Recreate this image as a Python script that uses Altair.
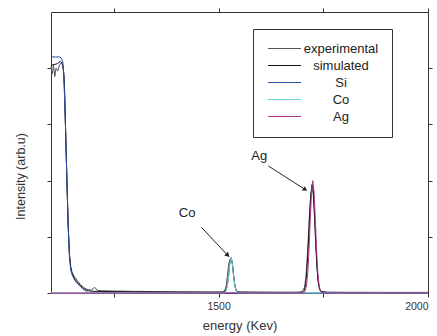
import altair as alt
import pandas as pd

# ---- data ----
si_e = [1100, 1110, 1120, 1125, 1128, 1130, 1132, 1135, 1138, 1141, 1144, 1147, 1150, 1155, 1160, 1165, 1170, 1175, 1180, 1185, 1190, 2000]
si_v = [4.2, 4.2, 4.2, 4.18, 4.12, 3.95, 3.6, 2.85, 2.0, 1.2, 0.65, 0.42, 0.33, 0.25, 0.19, 0.15, 0.12, 0.08, 0.05, 0.02, 0.0, 0.0]

co_e = [1100, 1510, 1515, 1518, 1521, 1524, 1527, 1530, 1533, 1536, 1539, 1542, 1545, 1550, 2000]
co_v = [0.0, 0.0, 0.007, 0.035, 0.125, 0.307, 0.526, 0.63, 0.526, 0.307, 0.125, 0.035, 0.007, 0.0, 0.0]

ag_e = [1100, 1703, 1707, 1710, 1713, 1716, 1719, 1722, 1725, 1728, 1731, 1734, 1737, 1740, 1743, 1747, 2000]
ag_v = [0.0, 0.0, 0.043, 0.14, 0.36, 0.77, 1.31, 1.8, 2.0, 1.8, 1.31, 0.77, 0.36, 0.14, 0.043, 0.0, 0.0]

exp_e = [1100, 1103, 1106, 1109, 1112, 1116, 1120, 1125, 1128, 1131, 1135, 1138, 1141, 1144, 1147, 1150, 1155, 1160,
         1165, 1170, 1175, 1180, 1185, 1190, 1195, 1200, 1203, 1206, 1210, 1220, 1250, 1300, 1350, 1400, 1450, 1480,
         1510, 1515, 1518, 1521, 1524, 1527, 1530, 1533, 1536, 1539, 1542, 1546, 1600, 1650, 1690, 1700, 1705, 1708,
         1711, 1714, 1717, 1720, 1723, 1726, 1729, 1732, 1735, 1738, 1741, 1745, 1760, 1800, 1850, 1900, 1950, 2000]
exp_v = [4.03, 3.9, 4.05, 3.85, 4.0, 3.95, 4.05, 4.1, 4.05, 3.85, 2.85, 2.0, 1.2, 0.7, 0.48, 0.38, 0.3, 0.25,
         0.2, 0.15, 0.12, 0.09, 0.07, 0.06, 0.05, 0.07, 0.1, 0.09, 0.05, 0.04, 0.035, 0.03, 0.025, 0.022, 0.02, 0.018,
         0.02, 0.05, 0.12, 0.3, 0.5, 0.6, 0.62, 0.52, 0.3, 0.13, 0.05, 0.02, 0.016, 0.014, 0.013, 0.03, 0.1, 0.25,
         0.55, 0.95, 1.4, 1.75, 1.88, 1.75, 1.35, 0.85, 0.45, 0.2, 0.08, 0.03, 0.015, 0.012, 0.011, 0.01, 0.01, 0.01]

sim_e = [1100, 1115, 1122, 1126, 1129, 1131, 1133, 1135, 1138, 1141, 1144, 1147, 1150, 1155, 1160, 1165, 1170, 1175,
         1180, 1185, 1190, 1200, 1300, 1400, 1500, 1512, 1515, 1518, 1521, 1524, 1527, 1530, 1533, 1536, 1539, 1542,
         1545, 1550, 1650, 1700, 1705, 1708, 1711, 1714, 1717, 1720, 1723, 1726, 1729, 1732, 1735, 1738, 1741, 1745,
         1760, 1850, 2000]
sim_v = [4.05, 4.08, 4.12, 4.1, 4.02, 3.85, 3.5, 2.85, 2.0, 1.2, 0.68, 0.45, 0.35, 0.27, 0.21, 0.17, 0.13, 0.1,
         0.07, 0.05, 0.04, 0.03, 0.02, 0.015, 0.012, 0.015, 0.03, 0.06, 0.14, 0.32, 0.53, 0.63, 0.53, 0.31, 0.13, 0.04,
         0.015, 0.012, 0.01, 0.012, 0.05, 0.15, 0.4, 0.8, 1.3, 1.72, 1.93, 1.85, 1.45, 0.9, 0.45, 0.18, 0.06, 0.02,
         0.01, 0.01, 0.01]

series_names = ["experimental", "simulated", "Si", "Co", "Ag"]
series_colors = ["#555555", "#111111", "#2d4ea3", "#6fd0dc", "#b0368e"]

ann_text = ["Co", "Ag"]
ann_e = [1425, 1597]
ann_v = [1.42, 2.44]

arrow_e = [1459, 1619]
arrow_v = [1.17, 2.26]
arrow_e2 = [1522, 1707]
arrow_v2 = [0.67, 1.84]
arrow_angle = [136, 123]

# ---- tables ----
rows = []
for name, es, vs in [("experimental", exp_e, exp_v), ("simulated", sim_e, sim_v),
                     ("Si", si_e, si_v), ("Co", co_e, co_v), ("Ag", ag_e, ag_v)]:
    for i, (e, v) in enumerate(zip(es, vs)):
        rows.append({"series": name, "energy": e, "intensity": v, "order": i})
df = pd.DataFrame(rows)

ann = pd.DataFrame({"text": ann_text, "energy": ann_e, "intensity": ann_v})
arr = pd.DataFrame({"e": arrow_e, "v": arrow_v, "e2": arrow_e2, "v2": arrow_v2, "angle": arrow_angle})

FONT = "Liberation Sans"
xscale = alt.Scale(domain=[1100, 2000], nice=False)
yscale = alt.Scale(domain=[0, 5], nice=False)

x_axis = alt.Axis(values=[1250, 1500, 1750, 2000], labelExpr="datum.value % 500 == 0 ? datum.label : ''",
                  title="energy (Kev)", grid=False, tickSize=4, labelPadding=4, titlePadding=8,
                  labelFontSize=10.5, titleFontSize=13, labelColor="#333", titleColor="#333",
                  domainColor="#333", tickColor="#333", format="d", titleFontWeight="normal")
y_axis = alt.Axis(values=[0, 1, 2, 3, 4], labels=False, title="Intensity (arb.u)", grid=False, tickSize=4,
                  titleFontSize=12.5, titleColor="#333", domainColor="#333", tickColor="#333",
                  titleFontWeight="normal", titleX=-31, titleY=164, titleAngle=-90, titleAlign="center",
                  titleBaseline="middle")

lines = alt.Chart(df).mark_line(strokeWidth=1, interpolate="linear").encode(
    x=alt.X("energy:Q", scale=xscale, axis=x_axis),
    y=alt.Y("intensity:Q", scale=yscale, axis=y_axis),
    color=alt.Color("series:N", scale=alt.Scale(domain=series_names, range=series_colors),
                    sort=series_names,
                    legend=alt.Legend(title=None, orient="none", legendX=202, legendY=17,
                                      symbolType="M-3,0H3", symbolSize=121, symbolStrokeWidth=1.2,
                                      symbolOffset=12,
                                      labelFontSize=13, labelColor="#222", labelAlign="center",
                                      labelOffset=50, rowPadding=3, padding=13,
                                      strokeColor="#333", fillColor="white", labelLimit=200)),
    detail="series:N",
    order="order:Q",
)

frame = alt.Chart(ann).mark_point(opacity=0).encode(
    x=alt.X("energy:Q", scale=xscale,
            axis=alt.Axis(orient="top", values=[1250, 1500, 1750, 2000], labels=False, title=None,
                          grid=False, tickSize=4, domainColor="#333", tickColor="#333")),
    y=alt.Y("intensity:Q", scale=yscale,
            axis=alt.Axis(orient="right", values=[1, 2, 3, 4], labels=False, title=None,
                          grid=False, tickSize=4, domainColor="#333", tickColor="#333")),
)

texts = alt.Chart(ann).mark_text(font=FONT, fontSize=13, color="#222", align="center", baseline="middle").encode(
    x=alt.X("energy:Q", scale=xscale), y=alt.Y("intensity:Q", scale=yscale), text="text:N")

arrow_lines = alt.Chart(arr).mark_rule(color="#222", strokeWidth=1).encode(
    x=alt.X("e:Q", scale=xscale), y=alt.Y("v:Q", scale=yscale), x2="e2:Q", y2="v2:Q")

arrow_heads = alt.Chart(arr).mark_point(shape="triangle-up", filled=True, color="#222", size=28, opacity=1).encode(
    x=alt.X("e2:Q", scale=xscale), y=alt.Y("v2:Q", scale=yscale),
    angle=alt.Angle("angle:Q", scale=None))

main = alt.layer(lines, texts, arrow_lines, arrow_heads)
chart = alt.layer(main, frame).resolve_axis(x="independent", y="independent").properties(
    width=377, height=281,
    autosize=alt.AutoSizeParams(type="none"),
    padding={"left": 51, "top": 12, "right": 9, "bottom": 43},
).configure(font=FONT).configure_view(stroke=None)

chart.save("out.html", embed_options={"renderer": "svg", "actions": False})
